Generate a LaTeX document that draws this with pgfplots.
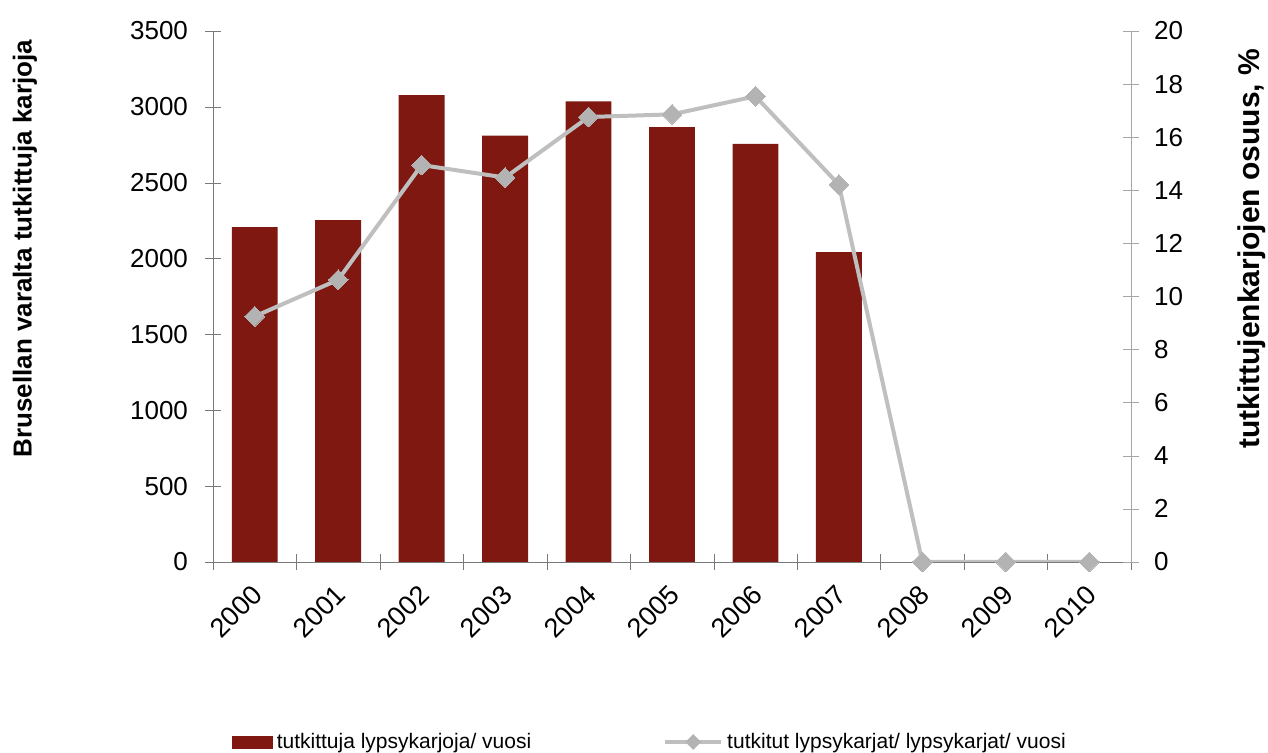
\documentclass[border=0pt]{standalone}
\usepackage{fontspec}
\setmainfont{Liberation Sans}
\usepackage{pgfplots}
\pgfplotsset{compat=1.18}
\definecolor{barred}{HTML}{7F1811}
\definecolor{linegray}{HTML}{BFBFBF}
\definecolor{markgray}{HTML}{B3B3B3}
\definecolor{axdark}{HTML}{7A7A7A}
\definecolor{axlight}{HTML}{A6A6A6}
\begin{document}
\begin{tikzpicture}
\pgfplotsset{
  every axis/.append style={
    scale only axis, width=459pt, height=265.5pt,
    xmin=-0.5, xmax=10.5,
    /pgf/number format/assume math mode=true,
    tick label style={font=\fontsize{13}{15}\selectfont},
    label style={font=\fontsize{13}{15}\selectfont\bfseries},
    tick align=center, major tick length=8pt, minor tick length=8pt,
  }
}
\begin{axis}[
  name=ax,
  axis x line*=bottom, axis y line*=left,
  x axis line style={-, draw=axdark},
  y axis line style={-, draw=axdark},
  ymin=0, ymax=3500, ytick={0,500,...,3500},
  yticklabel style={/pgf/number format/1000 sep={}, xshift=-5pt},
  ytick style={draw=axdark},
  xtick={0,1,2,3,4,5,6,7,8,9,10},
  xticklabels={2000,2001,2002,2003,2004,2005,2006,2007,2008,2009,2010},
  major x tick style={draw=none},
  minor xtick={-0.5,0.5,...,10.5},
  minor x tick style={draw=axdark},
  xticklabel style={rotate=45, anchor=north east, inner sep=0pt, xshift=-6pt, yshift=-3pt,
    font=\fontsize{13.5}{15}\selectfont},
  ylabel={Brusellan varalta tutkittuja karjoja},
  ylabel style={at={(axis description cs:-0.205,0.59)}, anchor=center},
]
\addplot[ybar, bar width=0.55, fill=barred, draw=none] coordinates {
  (0,2207) (1,2254) (2,3078) (3,2810) (4,3036) (5,2866) (6,2756) (7,2042)
};
\end{axis}
\begin{axis}[
  axis x line=none,
  axis y line*=right,
  y axis line style={-, draw=axlight},
  ytick style={draw=axlight},
  ymin=0, ymax=20, ytick={0,2,...,20},
  yticklabel style={xshift=4pt},
  ylabel={tutkittujenkarjojen osuus, \%},
  ylabel style={at={(axis description cs:1.132,0.59)}, anchor=center,
    font=\fontsize{15}{17}\selectfont\bfseries},
  legend columns=2,
  legend style={at={(axis description cs:0.0207,-0.339)}, anchor=west,
    draw=none, fill=none, inner sep=0pt, outer sep=0pt,
    font=\fontsize{10.5}{12}\selectfont,
    /tikz/every even column/.append style={column sep=64pt}},
]
\addlegendimage{legend image code/.code={\fill[barred] (0pt,-3pt) rectangle (20pt,3pt);}}
\addlegendentry{tutkittuja lypsykarjoja/ vuosi}
\addplot[color=linegray, line width=2pt, mark=square*, mark size=3.5pt,
  mark options={rotate=45, fill=markgray, draw=markgray, line width=0pt},
  legend image code/.code={\draw[linegray, line width=2pt] (0pt,0pt) -- (28pt,0pt);
     \fill[markgray] (14pt,2.5pt) -- (16.5pt,0pt) -- (14pt,-2.5pt) -- (11.5pt,0pt) -- cycle;}]
coordinates {
  (0,9.25) (1,10.63) (2,14.95) (3,14.48) (4,16.76) (5,16.86) (6,17.54) (7,14.21) (8,0) (9,0) (10,0)
};
\addlegendentry{tutkitut lypsykarjat/ lypsykarjat/ vuosi}
\end{axis}
\pgfresetboundingbox
\path[use as bounding box] ([shift={(-106.5pt,-95.5pt)}]ax.south west) rectangle ([shift={(527.5pt,281pt)}]ax.south west);
\end{tikzpicture}
\end{document}
